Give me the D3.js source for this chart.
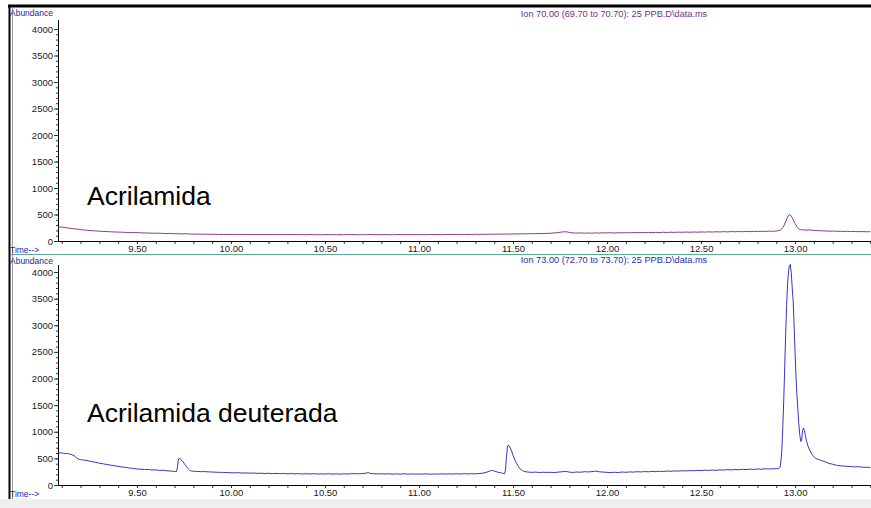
<!DOCTYPE html>
<html>
<head>
<meta charset="utf-8">
<script src="https://cdn.jsdelivr.net/npm/d3@7/dist/d3.min.js"></script>
<style>
  html, body { margin: 0; padding: 0; background: #fff; }
  svg { display: block; }
  .tick text { font-family: "Liberation Sans", Arial, sans-serif; font-size: 9.5px; fill: #1a1a1a; }
</style>
</head>
<body>
<svg id="chart" width="871" height="508"></svg>
<script>
// Time axis (min) and abundance axis ticks
const majorTimes = [9.5, 10.0, 10.5, 11.0, 11.5, 12.0, 12.5, 13.0];
const abundanceTicks = [0, 500, 1000, 1500, 2000, 2500, 3000, 3500, 4000];
const timeRange = [9.08, 13.404];

// Ion 70 trace (acrylamide)
const ion70Time = [
  9.08, 9.10, 9.12, 9.14, 9.16, 9.18, 9.20, 9.22, 9.24, 9.26, 9.28, 9.30, 9.32, 9.34, 9.36, 9.38, 9.40, 9.42, 9.44, 9.46, 9.48,
  9.50, 9.52, 9.54, 9.56, 9.58, 9.60, 9.62, 9.64, 9.66, 9.68, 9.70, 9.72, 9.74, 9.76, 9.78, 9.80, 9.82, 9.84, 9.86, 9.88, 9.90,
  9.92, 9.94, 9.96, 9.98, 10.00, 10.02, 10.04, 10.06, 10.08, 10.10, 10.12, 10.14, 10.16, 10.18, 10.20, 10.22, 10.24, 10.26,
  10.28, 10.30, 10.32, 10.34, 10.36, 10.38, 10.40, 10.42, 10.44, 10.46, 10.48, 10.50, 10.52, 10.54, 10.56, 10.58, 10.60,
  10.62, 10.64, 10.66, 10.68, 10.70, 10.72, 10.74, 10.76, 10.78, 10.80, 10.82, 10.84, 10.86, 10.88, 10.90, 10.92, 10.94,
  10.96, 10.98, 11.00, 11.02, 11.04, 11.06, 11.08, 11.10, 11.12, 11.14, 11.16, 11.18, 11.20, 11.22, 11.24, 11.26, 11.28,
  11.30, 11.32, 11.34, 11.36, 11.38, 11.40, 11.42, 11.44, 11.46, 11.48, 11.50, 11.52, 11.54, 11.56, 11.58, 11.60, 11.62,
  11.64, 11.66, 11.68, 11.70, 11.72, 11.74, 11.76, 11.78, 11.80, 11.82, 11.84, 11.86, 11.88, 11.90, 11.92, 11.94, 11.96,
  11.98, 12.00, 12.02, 12.04, 12.06, 12.08, 12.10, 12.12, 12.14, 12.16, 12.18, 12.20, 12.22, 12.24, 12.26, 12.28, 12.30,
  12.32, 12.34, 12.36, 12.38, 12.40, 12.42, 12.44, 12.46, 12.48, 12.50, 12.52, 12.54, 12.56, 12.58, 12.60, 12.62, 12.64,
  12.66, 12.68, 12.70, 12.72, 12.74, 12.76, 12.78, 12.80, 12.82, 12.84, 12.86, 12.88, 12.90, 12.92, 12.935, 12.95, 12.96,
  12.97, 12.98, 12.99, 13.00, 13.01, 13.02, 13.03, 13.04, 13.06, 13.08, 13.10, 13.12, 13.14, 13.16, 13.18, 13.20, 13.22,
  13.24, 13.26, 13.28, 13.30, 13.32, 13.34, 13.36, 13.38, 13.40
];
const ion70Abund = [
  268, 262, 255, 240, 232, 225, 214, 208, 200, 196, 190, 186, 180, 178, 174, 170, 168, 166, 162, 160, 158,
  160, 154, 152, 150, 148, 146, 146, 143, 140, 141, 138, 136, 134, 136, 132, 130, 131, 128, 130, 126, 127,
  124, 126, 122, 124, 123, 125, 122, 124, 121, 123, 121, 124, 120, 122, 121, 124, 120, 123,
  119, 122, 120, 124, 118, 121, 119, 122, 118, 120, 117, 121, 118, 122, 117, 120, 118,
  123, 119, 121, 117, 120, 118, 124, 119, 121, 118, 122, 117, 120, 119, 123, 118, 121,
  119, 122, 118, 121, 119, 124, 120, 122, 119, 123, 121, 125, 122, 124, 121, 126, 123,
  127, 124, 128, 125, 129, 127, 131, 128, 133, 130, 134, 132, 136, 134, 138, 136, 140,
  139, 142, 143, 147, 152, 160, 169, 176, 162, 152, 149, 153, 147, 151, 148, 153, 150,
  155, 152, 156, 151, 157, 153, 158, 154, 159, 156, 161, 157, 162, 159, 163, 160, 165,
  161, 166, 162, 167, 164, 169, 165, 170, 166, 171, 168, 173, 169, 174, 171, 176, 172,
  177, 174, 179, 175, 181, 176, 182, 178, 184, 180, 186, 183, 189, 200, 250, 360, 450,
  500, 470, 400, 330, 270, 230, 215, 210, 205, 208, 200, 196, 192, 190, 186, 188, 182,
  184, 180, 182, 178, 180, 176, 178, 174, 176
];

// Ion 73 trace (deuterated acrylamide)
const ion73Time = [
  9.08, 9.09, 9.10, 9.11, 9.12, 9.13, 9.14, 9.15, 9.16, 9.17, 9.18, 9.19, 9.20, 9.21, 9.22, 9.24, 9.26, 9.28, 9.30, 9.32,
  9.34, 9.36, 9.38, 9.40, 9.42, 9.44, 9.46, 9.48, 9.50, 9.52, 9.54, 9.56, 9.58, 9.60, 9.62, 9.64, 9.66, 9.68, 9.70, 9.71,
  9.715, 9.72, 9.725, 9.73, 9.74, 9.75, 9.76, 9.77, 9.78, 9.79, 9.80, 9.82, 9.84, 9.86, 9.88, 9.90, 9.92, 9.94, 9.96, 9.98,
  10.00, 10.02, 10.04, 10.06, 10.08, 10.10, 10.12, 10.14, 10.16, 10.18, 10.20, 10.22, 10.24, 10.26, 10.28, 10.30, 10.32,
  10.34, 10.36, 10.38, 10.40, 10.42, 10.44, 10.46, 10.48, 10.50, 10.52, 10.54, 10.56, 10.58, 10.60, 10.62, 10.64, 10.66,
  10.68, 10.70, 10.72, 10.73, 10.74, 10.76, 10.78, 10.80, 10.82, 10.84, 10.86, 10.88, 10.90, 10.92, 10.94, 10.96, 10.98,
  11.00, 11.02, 11.04, 11.06, 11.08, 11.10, 11.12, 11.14, 11.16, 11.18, 11.20, 11.22, 11.24, 11.26, 11.28, 11.30, 11.32,
  11.34, 11.36, 11.38, 11.39, 11.40, 11.42, 11.44, 11.455, 11.46, 11.465, 11.47, 11.475, 11.48, 11.49, 11.50, 11.51, 11.52,
  11.53, 11.54, 11.55, 11.56, 11.58, 11.60, 11.62, 11.64, 11.66, 11.68, 11.70, 11.72, 11.74, 11.76, 11.78, 11.80, 11.82,
  11.84, 11.86, 11.88, 11.90, 11.92, 11.94, 11.96, 11.98, 12.00, 12.02, 12.04, 12.06, 12.08, 12.10, 12.12, 12.14, 12.16,
  12.18, 12.20, 12.22, 12.24, 12.26, 12.28, 12.30, 12.32, 12.34, 12.36, 12.38, 12.40, 12.42, 12.44, 12.46, 12.48, 12.50,
  12.52, 12.54, 12.56, 12.58, 12.60, 12.62, 12.64, 12.66, 12.68, 12.70, 12.72, 12.74, 12.76, 12.78, 12.80, 12.82, 12.84,
  12.86, 12.88, 12.90, 12.91, 12.92, 12.925, 12.93, 12.935, 12.94, 12.945, 12.95, 12.955, 12.96, 12.965, 12.97, 12.975,
  12.98, 12.985, 12.99, 12.995, 13.00, 13.005, 13.01, 13.015, 13.02, 13.025, 13.03, 13.035, 13.04, 13.045, 13.05, 13.055,
  13.06, 13.07, 13.08, 13.09, 13.10, 13.11, 13.12, 13.14, 13.16, 13.18, 13.20, 13.22, 13.24, 13.26, 13.28, 13.30, 13.32,
  13.34, 13.36, 13.38, 13.40
];
const ion73Abund = [
  612, 600, 604, 595, 590, 592, 582, 575, 560, 540, 505, 485, 478, 470, 468, 455, 440, 425, 410, 398,
  385, 372, 362, 350, 338, 330, 318, 312, 300, 298, 290, 292, 282, 284, 274, 276, 266, 262, 255, 250,
  330, 470, 505, 495, 455, 410, 360, 310, 275, 262, 258, 255, 250, 252, 246, 244, 240, 238, 236, 232,
  230, 228, 232, 224, 226, 222, 225, 218, 222, 216, 220, 214, 218, 212, 216, 210, 214,
  209, 213, 208, 212, 207, 212, 206, 210, 206, 211, 205, 209, 204, 210, 206, 212, 214,
  210, 216, 222, 236, 218, 212, 208, 212, 206, 210, 204, 209, 205, 210, 204, 208, 203,
  207, 204, 209, 203, 208, 204, 210, 205, 209, 206, 211, 207, 212, 208, 213, 210, 216,
  222, 240, 268, 272, 262, 240, 225, 210, 280, 520, 710, 750, 730, 660, 560, 470, 400,
  340, 295, 270, 255, 242, 238, 242, 235, 240, 236, 238, 234, 242, 248, 255, 242, 236,
  244, 240, 250, 245, 252, 260, 248, 242, 238, 232, 240, 234, 244, 238, 246, 242, 250,
  245, 252, 248, 256, 250, 258, 254, 262, 258, 265, 260, 268, 264, 270, 266, 274, 270,
  278, 274, 280, 276, 284, 280, 288, 284, 290, 286, 294, 290, 298, 292, 300, 296, 304,
  300, 306, 304, 310, 330, 450, 680, 1100, 1600, 2200, 2800, 3350, 3750, 4000, 4120, 4140,
  3980, 3700, 3450, 3000, 2500, 2050, 1700, 1420, 1150, 950, 820, 830, 1020, 1070, 1020, 930,
  840, 720, 640, 580, 530, 500, 485, 460, 435, 405, 390, 370, 362, 355, 350, 345, 340,
  342, 335, 332, 330
];

const svg = d3.select("#chart");
const W = 871;

const x = d3.scaleLinear().domain(timeRange).range([58, W]);
const minorTimes = d3.range(91, 135).map(d => d / 10);
const minorAbund = d3.range(0, 4001, 100);
const uiFont = "Liberation Sans, Arial, sans-serif";

// window frame
svg.append("rect").attr("x", 0).attr("y", 0).attr("width", W).attr("height", 508).attr("fill", "#fff");
svg.append("rect").attr("x", 0).attr("y", 499).attr("width", W).attr("height", 9).attr("fill", "#efefef");
svg.append("line").attr("x1", 8).attr("x2", W).attr("y1", 6).attr("y2", 6).attr("stroke", "#000").attr("stroke-width", 3);
svg.append("line").attr("x1", 9.5).attr("x2", 9.5).attr("y1", 5).attr("y2", 499).attr("stroke", "#000").attr("stroke-width", 2);
svg.append("line").attr("x1", 12.5).attr("x2", 12.5).attr("y1", 8).attr("y2", 499).attr("stroke", "#999").attr("stroke-width", 1);

const panels = [
  { top: 29, bottom: 241, axisTop: 20, time: ion70Time, abund: ion70Abund, color: "#8b3c8b",
    ion: "Ion  70.00 (69.70 to 70.70): 25 PPB.D\\data.ms", ionColor: "#7a2f7a", ionY: 17, abY: 16,
    label: "Acrilamida", labelY: 205 },
  { top: 272, bottom: 485, axisTop: 265, time: ion73Time, abund: ion73Abund, color: "#3838b4",
    ion: "Ion  73.00 (72.70 to 73.70): 25 PPB.D\\data.ms", ionColor: "#2b2ba0", ionY: 263, abY: 263.5,
    label: "Acrilamida deuterada", labelY: 422 }
];

// separator between the two ion windows
svg.append("line").attr("x1", 11).attr("x2", W).attr("y1", 254.5).attr("y2", 254.5)
  .attr("stroke", "#5aa898").attr("stroke-width", 1.2);

panels.forEach(p => {
  const y = d3.scaleLinear().domain([0, 4000]).range([p.bottom, p.top]);
  const g = svg.append("g");

  // minor abundance ticks
  g.append("g").attr("transform", "translate(58,0)")
    .call(d3.axisLeft(y).tickValues(minorAbund).tickSize(2).tickFormat(""))
    .call(a => a.select(".domain").remove())
    .selectAll("line").attr("stroke", "#333");
  // major abundance ticks
  g.append("g").attr("transform", "translate(58,0)")
    .call(d3.axisLeft(y).tickValues(abundanceTicks).tickSize(4).tickPadding(1).tickFormat(d3.format("d")))
    .call(a => a.select(".domain").remove())
    .selectAll("line").attr("stroke", "#333");
  g.append("line").attr("x1", 58.5).attr("x2", 58.5).attr("y1", p.axisTop).attr("y2", p.bottom)
    .attr("stroke", "#000");

  // time axis
  g.append("g").attr("transform", `translate(0,${p.bottom})`)
    .call(d3.axisBottom(x).tickValues(minorTimes).tickSize(3).tickFormat(""))
    .call(a => a.select(".domain").remove())
    .selectAll("line").attr("stroke", "#333");
  g.append("g").attr("transform", `translate(0,${p.bottom})`)
    .call(d3.axisBottom(x).tickValues(majorTimes).tickSize(3).tickPadding(1).tickFormat(d3.format(".2f")))
    .call(a => a.select(".domain").remove())
    .selectAll("line").attr("stroke", "#333");
  g.append("line").attr("x1", 58).attr("x2", W).attr("y1", p.bottom + 0.5).attr("y2", p.bottom + 0.5)
    .attr("stroke", "#000");

  // trace
  const pts = p.time.map((t, i) => [t, p.abund[i]]);
  g.append("path").datum(pts)
    .attr("fill", "none").attr("stroke", p.color).attr("stroke-width", 1)
    .attr("d", d3.line().x(d => x(d[0])).y(d => y(d[1])));

  // header texts
  g.append("text").attr("x", 10).attr("y", p.abY)
    .attr("font-family", uiFont).attr("font-size", 8.5)
    .attr("fill", "#2424a0").text("Abundance");
  g.append("text").attr("x", 10).attr("y", p.bottom + 11.5)
    .attr("font-family", uiFont).attr("font-size", 8.5)
    .attr("fill", "#2424a0").text("Time-->");
  g.append("text").attr("x", 614).attr("y", p.ionY).attr("text-anchor", "middle")
    .attr("font-family", uiFont).attr("font-size", 9.2)
    .attr("fill", p.ionColor).text(p.ion);

  // compound label
  g.append("text").attr("x", 87).attr("y", p.labelY)
    .attr("font-family", uiFont).attr("font-size", 26.5)
    .attr("fill", "#000").text(p.label);
});
</script>
</body>
</html>
